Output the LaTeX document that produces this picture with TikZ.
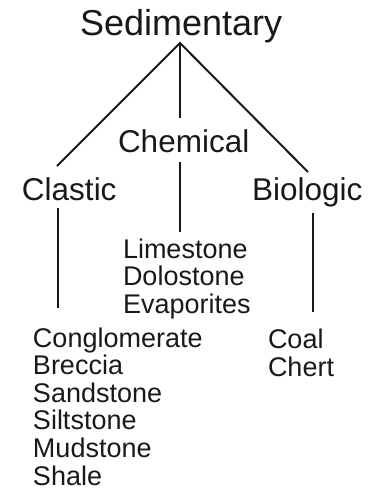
\documentclass[tikz,border=0pt]{standalone}
\usepackage{fontspec}
\setmainfont{Liberation Sans}
\begin{document}
\begin{tikzpicture}[x=1pt,y=-1pt,
  txt/.style={anchor=base west,inner sep=0pt,outer sep=0pt,text=black!90},
  big/.style={txt,font=\fontsize{36}{40}\selectfont},
  mid/.style={txt,font=\fontsize{31.5}{36}\selectfont},
  small/.style={txt,font=\fontsize{27}{30}\selectfont},
  link/.style={line width=2pt,black!90}]
\useasboundingbox (0,0) rectangle (372,491);
% titles
\node[big] (sed) at (80,35) {Sedimentary};
\node[mid] (chem) at (118,152) {Chemical};
\node[mid] (clas) at (22,200) {Clastic};
\node[mid] (bio) at (252,200) {Biologic};
% lists
\foreach \t [count=\i from 0] in {Limestone,Dolostone,Evaporites}
  \node[small] (chemlist\i) at (123,258+27.5*\i) {\t};
\foreach \t [count=\i from 0] in {Conglomerate,Breccia,Sandstone,Siltstone,Mudstone,Shale}
  \node[small] (claslist\i) at (33,347+27.6*\i) {\t};
\foreach \t [count=\i from 0] in {Coal,Chert}
  \node[small] (biolist\i) at (268,348+28.5*\i) {\t};
% connector ends
\coordinate (apex) at (180,43);
\coordinate (clasin) at (57,166);
\coordinate (chemin) at (180,118);
\coordinate (bioin) at (308,172);
\coordinate (chemout) at (180,162);
\coordinate (chemlistin) at (180,232);
\coordinate (clasout) at (58,208);
\coordinate (claslistin) at (58,308);
\coordinate (bioout) at (313,213);
\coordinate (biolistin) at (313,312);
% connectors
\draw[link] (clasin) -- (apex) -- (bioin);
\draw[link] (apex) -- (chemin);
\draw[link] (chemout) -- (chemlistin);
\draw[link] (clasout) -- (claslistin);
\draw[link] (bioout) -- (biolistin);
\end{tikzpicture}
\end{document}
